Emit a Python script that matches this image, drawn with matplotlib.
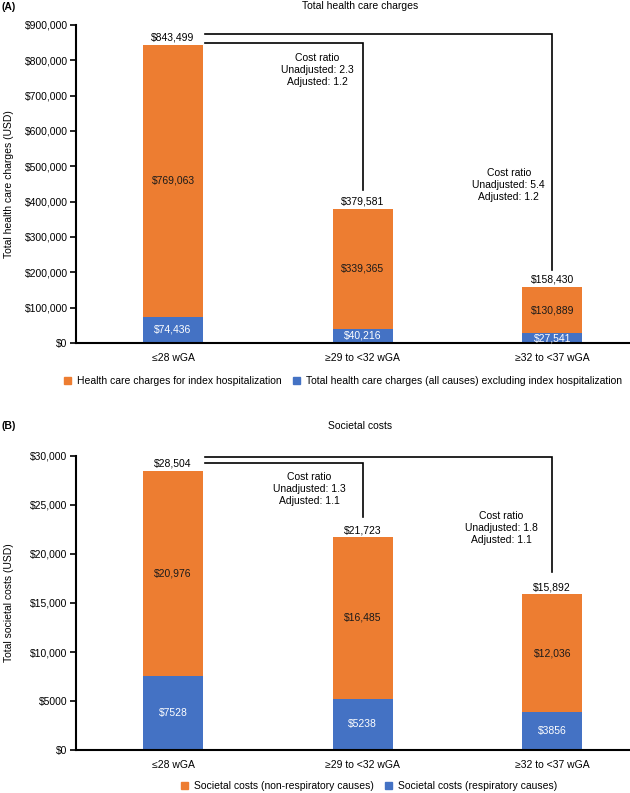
import matplotlib
matplotlib.use("Agg")
import matplotlib.pyplot as plt
from matplotlib.patches import Patch

plt.rcParams['font.family'] = ['Liberation Sans', 'DejaVu Sans']
plt.rcParams['font.size'] = 7.5

groups = ['≤28 wGA', '≥29 to <32 wGA', '≥32 to <37 wGA']

# panel A: total health care charges
a_index = [769063, 339365, 130889]
a_other = [74436, 40216, 27541]
a_total = [843499, 379581, 158430]
a_ratios = [('2.3', '1.2'), ('5.4', '1.2')]
a_legend = ['Health care charges for index hospitalization',
            'Total health care charges (all causes) excluding index hospitalization']

# panel B: societal costs
b_nonresp = [20976, 16485, 12036]
b_resp = [7528, 5238, 3856]
b_total = [28504, 21723, 15892]
b_ratios = [('1.3', '1.1'), ('1.8', '1.1')]
b_legend = ['Societal costs (non-respiratory causes)',
            'Societal costs (respiratory causes)']

ORANGE = '#ED7D31'
BLUE = '#4472C4'


def money(v):
    if v >= 10000:
        return '${:,.0f}'.format(v)
    return '${:.0f}'.format(v)


def panel(ax, top, bottom, total, ymax, step, ylabel, ratios, brackets, drops, txt_pos):
    x = range(len(groups))
    w = 0.317
    ax.bar(x, bottom, w, color=BLUE)
    ax.bar(x, top, w, bottom=bottom, color=ORANGE)
    for i in x:
        ax.text(i, bottom[i] / 2, money(bottom[i]), ha='center', va='center', color='white')
        ax.text(i, bottom[i] + top[i] / 2, money(top[i]), ha='center', va='center', color='#1a1a1a')
        ax.annotate(money(total[i]), (i, total[i]), xytext=(0, 1.5), textcoords='offset points',
                    ha='center', va='bottom', color='black')
    # cost ratio brackets
    for k, j in enumerate([1, 2]):
        ax.plot([w / 2 + 0.01, j, j], [brackets[k], brackets[k], drops[k]],
                color='black', lw=1.2, solid_joinstyle='miter', clip_on=False)
        tx, ty = txt_pos[k]
        ax.text(tx, ty, 'Cost ratio\nUnadjusted: %s\nAdjusted: %s' % ratios[k],
                ha='center', va='center', linespacing=1.25)
    ax.set_xlim(-0.512, 2.41)
    ax.set_ylim(0, ymax)
    ax.set_yticks(range(0, ymax + 1, step))
    ax.set_yticklabels([money(v) for v in range(0, ymax + 1, step)])
    ax.set_xticks(list(x))
    ax.set_xticklabels(groups)
    ax.tick_params(axis='x', length=0, pad=7)
    ax.tick_params(axis='y', length=4, width=1.2, pad=2)
    for s in ['top', 'right']:
        ax.spines[s].set_visible(False)
    for s in ['left', 'bottom']:
        ax.spines[s].set_linewidth(1.5)
    ax.set_ylabel(ylabel)
    ax.yaxis.set_label_coords(-0.112, 0.5)


fig = plt.figure(figsize=(6.3, 7.93), dpi=100)

axa = fig.add_axes([0.1206, 0.5675, 0.8794, 0.401])
panel(axa, a_index, a_other, a_total, 900000, 100000, 'Total health care charges (USD)',
      a_ratios, [850000, 874000], [433000, 206000], [(0.76, 772000), (1.77, 447000)])

axb = fig.add_axes([0.1206, 0.0542, 0.8794, 0.3708])
panel(axb, b_nonresp, b_resp, b_total, 30000, 5000, 'Total societal costs (USD)',
      b_ratios, [29300, 29900], [23800, 18200], [(0.72, 26630), (1.73, 22650)])

fig.text(0.003, 1 - 7 / 793, '(A)', fontweight='bold', va='center', ha='left')
fig.text(360 / 630, 1 - 6 / 793, 'Total health care charges', ha='center', va='center')
fig.text(0.003, 1 - 426 / 793, '(B)', fontweight='bold', va='center', ha='left')
fig.text(360 / 630, 1 - 426 / 793, 'Societal costs', ha='center', va='center')

leg_kw = dict(ncol=2, frameon=False, handlelength=0.7, handleheight=0.7,
              handletextpad=0.6, columnspacing=1.0, loc='center')
fig.legend([Patch(color=ORANGE), Patch(color=BLUE)], a_legend,
           bbox_to_anchor=(343 / 630, 1 - 381 / 793), **leg_kw)
fig.legend([Patch(color=ORANGE), Patch(color=BLUE)], b_legend,
           bbox_to_anchor=(369 / 630, 1 - 786 / 793), **leg_kw)

fig.savefig('out.png', dpi=100)
